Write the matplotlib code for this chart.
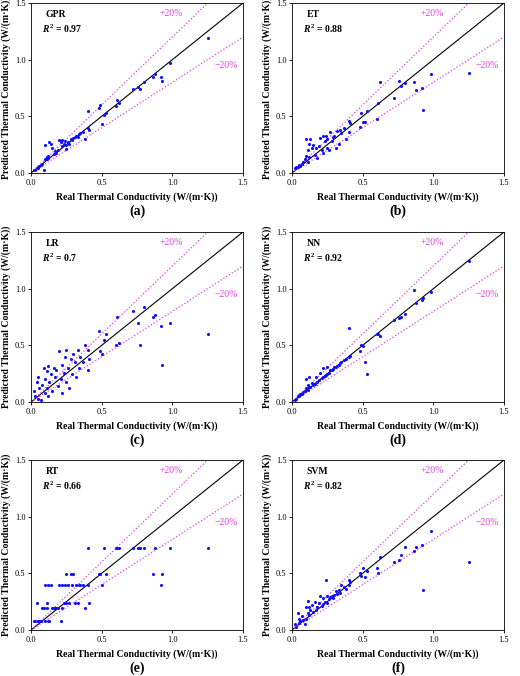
import matplotlib
matplotlib.use("Agg")
import matplotlib.pyplot as plt
import numpy as np

plt.rcParams['font.family'] = ['Liberation Serif', 'DejaVu Serif']
plt.rcParams['mathtext.fontset'] = 'custom'
plt.rcParams['mathtext.it'] = 'Liberation Serif:italic:bold'
plt.rcParams['mathtext.rm'] = 'Liberation Serif:bold'
plt.rcParams['mathtext.bf'] = 'Liberation Serif:bold'

real = [0.02,0.03,0.04,0.05,0.05,0.06,0.07,0.08,0.09,0.10,0.10,0.11,0.11,0.12,0.12,0.13,0.14,0.15,0.16,0.17,
        0.18,0.19,0.20,0.21,0.22,0.22,0.23,0.24,0.25,0.25,0.26,0.27,0.28,0.29,0.30,0.31,0.32,0.33,0.34,0.35,
        0.37,0.38,0.40,0.40,0.41,0.48,0.49,0.50,0.52,0.53,0.60,0.61,0.62,0.72,0.76,0.77,0.80,0.86,0.88,0.92,
        0.93,0.98,1.25]

pred_gpr = [0.03,0.03,0.04,0.05,0.04,0.06,0.07,0.08,0.03,0.25,0.12,0.14,0.12,0.15,0.13,0.27,0.26,0.22,0.17,0.19,
            0.18,0.20,0.29,0.27,0.29,0.24,0.26,0.28,0.21,0.25,0.27,0.26,0.30,0.29,0.31,0.32,0.33,0.32,0.34,0.35,
            0.36,0.30,0.55,0.40,0.38,0.57,0.60,0.43,0.51,0.53,0.59,0.64,0.62,0.74,0.76,0.74,0.80,0.85,0.87,0.85,
            0.81,0.97,1.19]
pred_et = [0.04,0.05,0.05,0.06,0.07,0.06,0.08,0.10,0.12,0.30,0.15,0.20,0.10,0.26,0.14,0.30,0.22,0.25,0.16,0.22,
           0.13,0.24,0.31,0.20,0.33,0.18,0.28,0.33,0.22,0.30,0.20,0.36,0.28,0.32,0.33,0.22,0.37,0.26,0.38,0.35,
           0.40,0.30,0.46,0.36,0.44,0.41,0.53,0.45,0.45,0.55,0.48,0.62,0.80,0.66,0.81,0.77,0.79,0.80,0.73,0.75,
           0.56,0.87,0.88]
pred_lr = [0.10,0.05,0.18,0.03,0.22,0.12,0.02,0.15,0.30,0.08,0.20,0.27,0.12,0.32,0.05,0.18,0.25,0.10,0.30,0.22,
           0.28,0.14,0.45,0.20,0.33,0.08,0.26,0.40,0.18,0.46,0.30,0.12,0.38,0.25,0.42,0.35,0.22,0.46,0.30,0.40,
           0.35,0.50,0.46,0.28,0.38,0.63,0.45,0.42,0.55,0.60,0.50,0.75,0.52,0.80,0.70,0.50,0.84,0.75,0.77,0.67,
           0.33,0.70,0.60]
pred_nn = [0.02,0.03,0.05,0.05,0.06,0.07,0.07,0.09,0.10,0.12,0.20,0.11,0.15,0.13,0.22,0.13,0.17,0.15,0.16,0.22,
           0.18,0.19,0.26,0.21,0.22,0.30,0.23,0.24,0.25,0.31,0.26,0.28,0.28,0.29,0.31,0.31,0.32,0.33,0.34,0.35,
           0.37,0.38,0.40,0.65,0.41,0.45,0.50,0.49,0.35,0.25,0.60,0.60,0.58,0.72,0.74,0.75,0.78,0.99,0.87,0.90,
           0.92,0.97,1.24]
pred_rt = [0.08,0.08,0.24,0.08,0.08,0.08,0.08,0.19,0.19,0.08,0.40,0.19,0.24,0.08,0.40,0.08,0.40,0.19,0.19,0.19,
           0.19,0.19,0.40,0.08,0.40,0.19,0.24,0.40,0.24,0.49,0.40,0.24,0.49,0.40,0.49,0.24,0.40,0.24,0.40,0.40,
           0.40,0.19,0.72,0.40,0.24,0.49,0.49,0.40,0.72,0.49,0.72,0.72,0.72,0.72,0.72,0.72,0.72,0.49,0.72,0.40,
           0.49,0.72,0.72]
pred_svm = [0.05,0.03,0.15,0.06,0.10,0.08,0.12,0.09,0.05,0.20,0.10,0.15,0.26,0.13,0.20,0.18,0.22,0.16,0.25,0.18,
            0.20,0.24,0.30,0.21,0.28,0.23,0.25,0.44,0.24,0.30,0.27,0.29,0.30,0.28,0.31,0.34,0.32,0.35,0.33,0.40,
            0.38,0.36,0.44,0.40,0.42,0.50,0.48,0.55,0.47,0.52,0.55,0.50,0.64,0.60,0.62,0.66,0.73,0.70,0.73,0.75,
            0.35,0.87,0.60]

models = ['GPR', 'ET', 'LR', 'NN', 'RT', 'SVM']
r2 = ['0.97', '0.88', '0.7', '0.92', '0.66', '0.82']
preds = [pred_gpr, pred_et, pred_lr, pred_nn, pred_rt, pred_svm]
letters = ['(a)', '(b)', '(c)', '(d)', '(e)', '(f)']

fig = plt.figure(figsize=(5.2, 6.76), dpi=100)
W, H = 520, 676
lefts = [31, 292]
tops = [3, 232, 460]
aw, ah = 212, 170
line = np.array([0, 1.5])
for i in range(6):
    r, c = divmod(i, 2)
    ax = fig.add_axes([lefts[c]/W, 1-(tops[r]+ah)/H, aw/W, ah/H])
    ax.plot(line, line, color='black', lw=0.8)
    ax.plot(line, 1.2*line, color='#e040e0', lw=0.9, ls=':')
    ax.plot(line, 0.8*line, color='#e040e0', lw=0.9, ls=':')
    ax.scatter(real, preds[i], s=5, color='#1010ff', zorder=3, linewidths=0)
    ax.set_xlim(0, 1.5); ax.set_ylim(0, 1.5)
    ax.set_xticks([0, 0.5, 1.0, 1.5]); ax.set_yticks([0, 0.5, 1.0, 1.5])
    ax.set_xticklabels(['0.0', '0.5', '1.0', '1.5']); ax.set_yticklabels(['0.0', '0.5', '1.0', '1.5'])
    ax.tick_params(labelsize=6, length=2, width=0.6, pad=2)
    for s in ax.spines.values():
        s.set_linewidth(0.6)
    ax.text(0.07, 0.93, models[i], transform=ax.transAxes, fontsize=7, fontweight='bold', ha='left', va='center')
    ax.text(0.05, 0.85, r'$R^2$' + ' = ' + r2[i], transform=ax.transAxes,
            fontsize=7, fontweight='bold', ha='left', va='center')
    ax.text(0.99, 1.41, '+20%', color='#e040e0', fontsize=7, ha='center', va='center')
    ax.text(1.38, 0.95, '\u221220%', color='#e040e0', fontsize=7, ha='center', va='center')
    ax.set_xlabel('Real Thermal Conductivity (W/(m\u00b7K))', fontsize=7, fontweight='bold', labelpad=4)
    ax.set_ylabel('Predicted Thermal Conductivity (W/(m\u00b7K))', fontsize=7, fontweight='bold', labelpad=3)
    ax.text(0.5, -38/ah, letters[i], transform=ax.transAxes, fontsize=10, fontweight='bold', ha='center', va='center')

fig.savefig('out.png', dpi=100)
